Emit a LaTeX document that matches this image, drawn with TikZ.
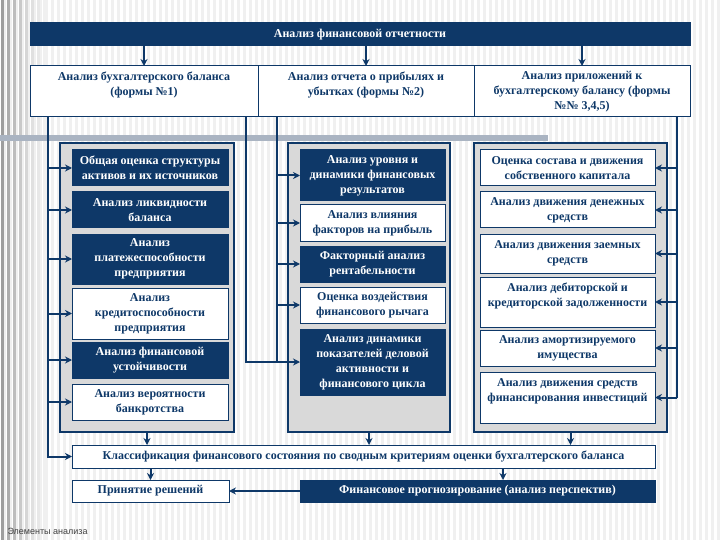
\documentclass[tikz,border=0pt]{standalone}
\usepackage{fontspec}
\setmainfont{Liberation Serif}
\setsansfont{Liberation Sans}
\definecolor{mynavy}{HTML}{0E3868}
\definecolor{mygray}{HTML}{D9D9D9}
\definecolor{myband}{HTML}{AAB4C2}
\definecolor{mystripe}{HTML}{F0F0F0}
\usetikzlibrary{positioning, calc, arrows.meta}
\tikzset{
	defaultnode/.style={
			rectangle,
			draw=mynavy,
			line width=1pt,
			fill=white,
			text=mynavy,
			font=\fontsize{12}{15}\selectfont\bfseries,
			align=center,
			inner sep=0pt,
			outer sep=0pt
		},
	darknode/.style={
			defaultnode,
			fill=mynavy,
			text=white
		},
	groupnode/.style={
			defaultnode,
			line width=1.4pt,
			fill=mygray
		},
	connector/.style={
			draw=mynavy,
			line width=2pt
		}
}

\begin{document}
\begin{tikzpicture}[x=1pt, y=-1pt, >={Stealth[length=7pt, width=7pt]}]
\fill[white] (0,0) rectangle (720,540);
\foreach \i in {0,...,119}
    \fill[mystripe] (\i*6+3,0) rectangle ++(3,540);
\foreach \i/\c in {0/38,1/32,2/26,3/21,4/16,5/12,6/9,7/6}
    \fill[black!\c] (\i*6+1,0) rectangle ++(3,540);
\fill[myband] (0,135) rectangle (548,141);

    \node[darknode, minimum width=660pt, minimum height=23pt] (top) at (360,34.5)  {Анализ финансовой отчетности};

    \node[defaultnode, minimum width=228pt, minimum height=51pt] (h1) at (144,91.5)  {Анализ бухгалтерского баланса\\(формы №1)\\ \mbox{}};
    \node[defaultnode, minimum width=216pt, minimum height=51pt] (h2) at (366,91.5)  {Анализ отчета о прибылях и\\убытках (формы №2)\\ \mbox{}};
    \node[defaultnode, minimum width=216pt, minimum height=51pt] (h3) at (582,91.5)  {Анализ приложений к\\бухгалтерскому балансу (формы\\№№ 3,4,5)};

    \node[groupnode, minimum width=174pt, minimum height=289pt] (g1) at (147,287.5)  {};
    \node[groupnode, minimum width=162pt, minimum height=289pt] (g2) at (369,287.5)  {};
    \node[groupnode, minimum width=193pt, minimum height=289pt] (g3) at (570.5,287.5)  {};

    \node[darknode, minimum width=156pt, minimum height=36pt] (a1) at (150,168)  {Общая оценка структуры\\активов и их источников};
    \node[darknode, minimum width=156pt, minimum height=36pt] (a2) at (150,210)  {Анализ ликвидности\\баланса};
    \node[darknode, minimum width=156pt, minimum height=50pt] (a3) at (150,259)  {Анализ\\платежеспособности\\предприятия};
    \node[defaultnode, minimum width=156pt, minimum height=51pt] (a4) at (150,313.5)  {Анализ\\кредитоспособности\\предприятия};
    \node[darknode, minimum width=156pt, minimum height=36pt] (a5) at (150,360)  {Анализ финансовой\\устойчивости};
    \node[defaultnode, minimum width=156pt, minimum height=36pt] (a6) at (150,402)  {Анализ вероятности\\банкротства};

    \node[darknode, minimum width=145pt, minimum height=51pt] (b1) at (372.5,175.5)  {Анализ уровня и\\динамики финансовых\\результатов};
    \node[defaultnode, minimum width=145pt, minimum height=36pt] (b2) at (372.5,223)  {Анализ влияния\\факторов на прибыль};
    \node[darknode, minimum width=145pt, minimum height=36pt] (b3) at (372.5,264)  {Факторный анализ\\рентабельности};
    \node[defaultnode, minimum width=145pt, minimum height=36pt] (b4) at (372.5,305)  {Оценка воздействия\\финансового рычага};
    \node[darknode, minimum width=145pt, minimum height=66pt] (b5) at (372.5,362)  {Анализ динамики\\показателей деловой\\активности и\\финансового цикла};

    \node[defaultnode, minimum width=175pt, minimum height=36pt] (c1) at (567.5,168)  {Оценка состава и движения\\собственного капитала};
    \node[defaultnode, minimum width=175pt, minimum height=36pt] (c2) at (567.5,210)  {Анализ движения денежных\\средств};
    \node[defaultnode, minimum width=175pt, minimum height=39pt] (c3) at (567.5,253.5)  {Анализ движения заемных\\средств};
    \node[defaultnode, minimum width=175pt, minimum height=50pt] (c4) at (567.5,302)  {Анализ дебиторской и\\кредиторской задолженности\\ \mbox{}};
    \node[defaultnode, minimum width=175pt, minimum height=36pt] (c5) at (567.5,348)  {Анализ амортизируемого\\имущества};
    \node[defaultnode, minimum width=175pt, minimum height=51pt] (c6) at (567.5,397.5)  {Анализ движения средств\\финансирования инвестиций\\ \mbox{}};

    \node[defaultnode, minimum width=583pt, minimum height=23pt] (cls) at (363.5,456.5)  {Классификация финансового состояния по сводным критериям оценки бухгалтерского баланса};
    \node[defaultnode, minimum width=157pt, minimum height=22pt] (dec) at (150.5,491)  {Принятие решений};
    \node[darknode, minimum width=355pt, minimum height=22pt] (fc) at (477.5,491)  {Финансовое прогнозирование (анализ перспектив)};

    \node[anchor=west, font=\sffamily\fontsize{9}{10}\selectfont, text=black!75] (cap) at (4,531)  {Элементы анализа};

    \coordinate (t1) at (48,117);
    \coordinate (t2) at (246,117);
    \coordinate (t3) at (277,117);
    \coordinate (t4) at (677,117);
    \coordinate (t5) at (503,468);

    \draw[connector, ->] (top.south -| h1.north) -- (h1.north);
    \draw[connector, ->] (top.south -| h2.north) -- (h2.north);
    \draw[connector, ->] (top.south -| h3.north) -- (h3.north);

    \draw[connector, ->] (t1) |- (cls.west);
    \draw[connector, ->] (t1 |- a1.west) -- (a1.west);
    \draw[connector, ->] (t1 |- a2.west) -- (a2.west);
    \draw[connector, ->] (t1 |- a3.west) -- (a3.west);
    \draw[connector, ->] (t1 |- a4.west) -- (a4.west);
    \draw[connector, ->] (t1 |- a5.west) -- (a5.west);
    \draw[connector, ->] (t1 |- a6.west) -- (a6.west);

    \draw[connector, ->] (t2) |- (b5.west);
    \draw[connector] (t3) -- (t3 |- b5.west);
    \draw[connector, ->] (t3 |- b1.west) -- (b1.west);
    \draw[connector, ->] (t3 |- b2.west) -- (b2.west);
    \draw[connector, ->] (t3 |- b3.west) -- (b3.west);
    \draw[connector, ->] (t3 |- b4.west) -- (b4.west);

    \draw[connector] (t4) -- (t4 |- c6.east);
    \draw[connector, ->] (t4 |- c1.east) -- (c1.east);
    \draw[connector, ->] (t4 |- c2.east) -- (c2.east);
    \draw[connector, ->] (t4 |- c3.east) -- (c3.east);
    \draw[connector, ->] (t4 |- c4.east) -- (c4.east);
    \draw[connector, ->] (t4 |- c5.east) -- (c5.east);
    \draw[connector, ->] (t4 |- c6.east) -- (c6.east);

    \draw[connector, ->] (g1.south) -- (g1.south |- cls.north);
    \draw[connector, ->] (g2.south) -- (g2.south |- cls.north);
    \draw[connector, ->] (g3.south) -- (g3.south |- cls.north);

    \draw[connector, ->] (cls.south -| dec.north) -- (dec.north);
    \draw[connector, ->] (t5) -- (t5 |- fc.north);
    \draw[connector, ->] (fc.west) -- (dec.east);

\end{tikzpicture}
\end{document}
